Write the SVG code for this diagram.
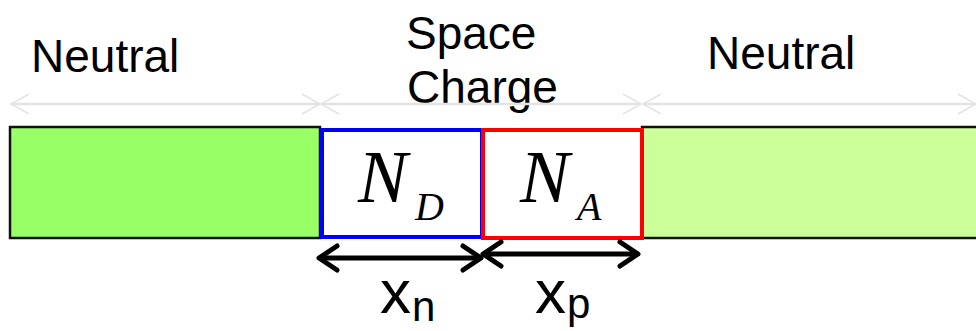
<svg xmlns="http://www.w3.org/2000/svg" width="976" height="331" viewBox="0 0 976 331">
<defs>
<marker id="gh" viewBox="0 0 20 24" refX="19" refY="12" markerWidth="20" markerHeight="24" markerUnits="userSpaceOnUse" orient="auto-start-reverse">
<path d="M1,2 L19,12 L1,22" fill="none" stroke="#e3e3e3" stroke-width="1.5"/>
</marker>
<marker id="bh" viewBox="0 0 24 30" refX="21" refY="15" markerWidth="24" markerHeight="30" markerUnits="userSpaceOnUse" orient="auto-start-reverse">
<path d="M3,3 L21,15 L3,27" fill="none" stroke="#000" stroke-width="5" stroke-linecap="round" stroke-linejoin="round"/>
</marker>
</defs>
<style>
.lbl{font-family:"Liberation Sans",Arial,sans-serif;font-size:46px;fill:#000}
.math{font-family:"Liberation Serif","Times New Roman",serif;font-style:italic;fill:#000}
.sub{font-family:"Liberation Sans",Arial,sans-serif;fill:#000}
.g{stroke:#e3e3e3;stroke-width:2.5;fill:none}
.b{stroke:#000;stroke-width:5;fill:none}
</style>
<rect width="976" height="331" fill="#fff"/>
<g id="neutral-left">
<rect x="10" y="127" width="310" height="111" fill="#99ff66" stroke="#111" stroke-width="2.5"/>
<text class="lbl" x="31" y="72">Neutral</text>
</g>
<g id="neutral-right">
<rect x="642" y="127" width="340" height="111" fill="#ccff99" stroke="#111" stroke-width="2.5"/>
<text class="lbl" x="707" y="69">Neutral</text>
</g>
<g id="space-charge-label">
<text class="lbl" x="406" y="49">Space</text>
<text class="lbl" x="407" y="103">Charge</text>
</g>
<g id="nd-box">
<rect x="322" y="130" width="160" height="107" fill="#fff" stroke="#0000ff" stroke-width="4"/>
<text class="math" x="358" y="202" font-size="74">N</text>
<text class="math" x="415" y="220" font-size="40">D</text>
</g>
<g id="na-box">
<rect x="483" y="130" width="159" height="108" fill="#fff" stroke="#ff0000" stroke-width="4"/>
<text class="math" x="520" y="202" font-size="74">N</text>
<text class="math" x="577" y="220" font-size="40">A</text>
</g>
<g id="connectors">
<line class="g" x1="11" y1="104" x2="320" y2="104" marker-start="url(#gh)" marker-end="url(#gh)"/>
<line class="g" x1="321" y1="104" x2="641" y2="104" marker-start="url(#gh)" marker-end="url(#gh)"/>
<line class="g" x1="643" y1="104" x2="976" y2="104" marker-start="url(#gh)" marker-end="url(#gh)"/>
<line class="b" x1="319" y1="258" x2="481" y2="258" marker-start="url(#bh)" marker-end="url(#bh)"/>
<line class="b" x1="483" y1="254" x2="638" y2="254" marker-start="url(#bh)" marker-end="url(#bh)"/>
</g>
<g id="xn-label">
<text class="sub" x="380" y="313" font-size="62">x</text>
<text class="sub" x="412" y="321" font-size="42">n</text>
</g>
<g id="xp-label">
<text class="sub" x="535" y="313" font-size="62">x</text>
<text class="sub" x="567" y="318" font-size="42">p</text>
</g>
</svg>
